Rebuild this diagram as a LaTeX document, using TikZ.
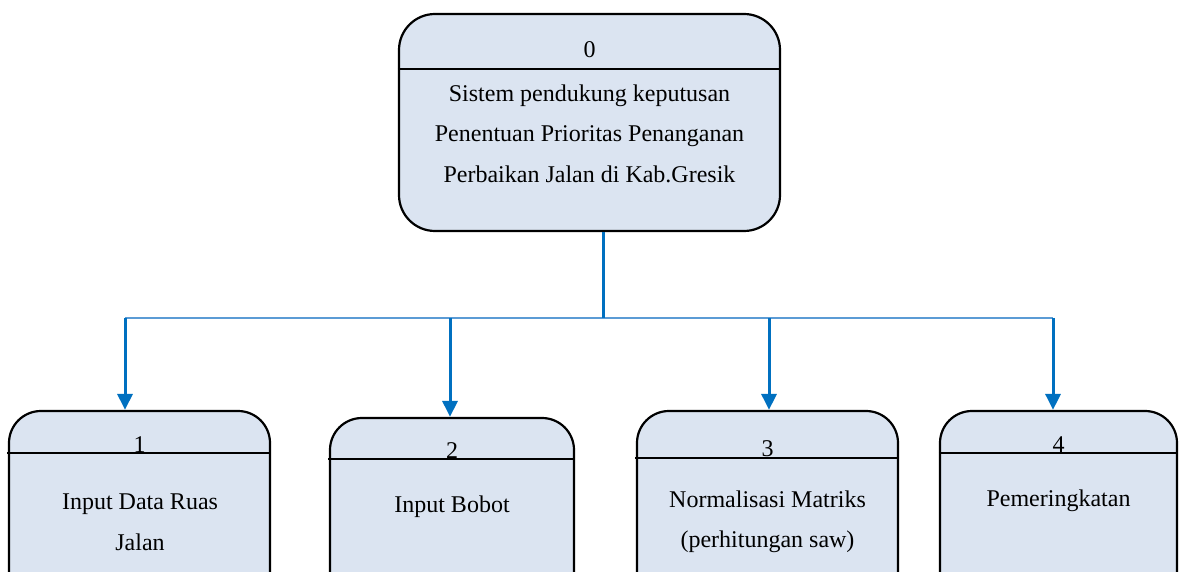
\documentclass[tikz,border=0pt]{standalone}
\usepackage{fontspec}
\setmainfont{Liberation Serif}
\usetikzlibrary{arrows.meta, positioning}

\definecolor{boxfill}{HTML}{DBE4F1}
\definecolor{flowblue}{HTML}{0070C0}
\definecolor{busblue}{HTML}{5B9BD5}

\tikzset{
	procbox/.style={draw=black, line width=2.2pt, fill=boxfill, rounded corners=32pt, inner sep=0pt},
	proctext/.style={align=center, font=\fontsize{24}{40.5}\selectfont},
	flowline/.style={draw=flowblue, line width=3pt, -{Triangle[width=15pt,length=16pt]}},
	busline/.style={draw=busblue, line width=2pt}
}

\begin{document}
\begin{tikzpicture}[x=1pt, y=-1pt]

	\clip (0,0) rectangle (1179,572);

	% proses utama
	\node[procbox, rounded corners=36pt, minimum width=381pt, minimum height=217pt] (p0) at (589.5,122.5) {};
	\draw[line width=2.2pt] ([yshift=-56pt]p0.north west) -- ([yshift=-56pt]p0.north east);
	\node[proctext] (n0) at (589.5,50) {0};
	\node[proctext] (t0) at (589.5,133.5) {Sistem pendukung keputusan\\Penentuan Prioritas Penanganan\\Perbaikan Jalan di Kab.Gresik};

	% sub proses
	\node[procbox, minimum width=261pt, minimum height=220pt] (p1) at (139.5,521) {};
	\node[procbox, minimum width=244pt, minimum height=220pt] (p2) at (452,528) {};
	\node[procbox, minimum width=261pt, minimum height=220pt] (p3) at (767.5,521) {};
	\node[procbox, minimum width=237pt, minimum height=220pt] (p4) at (1058.5,521) {};

	\draw[line width=2.2pt] (7,453) -- (p1.east |- 0,453);
	\draw[line width=2.2pt] (328,459) -- (p2.east |- 0,459);
	\draw[line width=2.2pt] (635,458) -- (p3.east |- 0,458);
	\draw[line width=2.2pt] (p4.west |- 0,453) -- (p4.east |- 0,453);

	\node[proctext, anchor=base] (n1) at (139.5,452) {1};
	\node[proctext, anchor=base] (n2) at (452,458) {2};
	\node[proctext, anchor=base] (n3) at (767.5,456) {3};
	\node[proctext, anchor=base] (n4) at (1058.5,452) {4};

	\node[proctext] (t1) at (140,522.5) {Input Data Ruas\\Jalan};
	\node[proctext] (t2) at (452,507) {Input Bobot};
	\node[proctext] (t3) at (767.5,522) {Normalisasi Matriks\\(perhitungan saw)};
	\node[proctext] (t4) at (1058.5,501) {Pemeringkatan};

	% garis penghubung
	\coordinate (b0) at (603,318);
	\coordinate (b1) at (125,318);
	\coordinate (b2) at (450,318);
	\coordinate (b3) at (769,318);
	\coordinate (b4) at (1053,318);

	\draw[busline] (b1) -- (b4);
	\draw[draw=flowblue, line width=3pt] (p0.south -| b0) -- (b0);
	\draw[flowline] (b1) -- (b1 |- p1.north);
	\draw[flowline] (b2) -- (b2 |- p2.north);
	\draw[flowline] (b3) -- (b3 |- p3.north);
	\draw[flowline] (b4) -- (b4 |- p4.north);

\end{tikzpicture}
\end{document}
